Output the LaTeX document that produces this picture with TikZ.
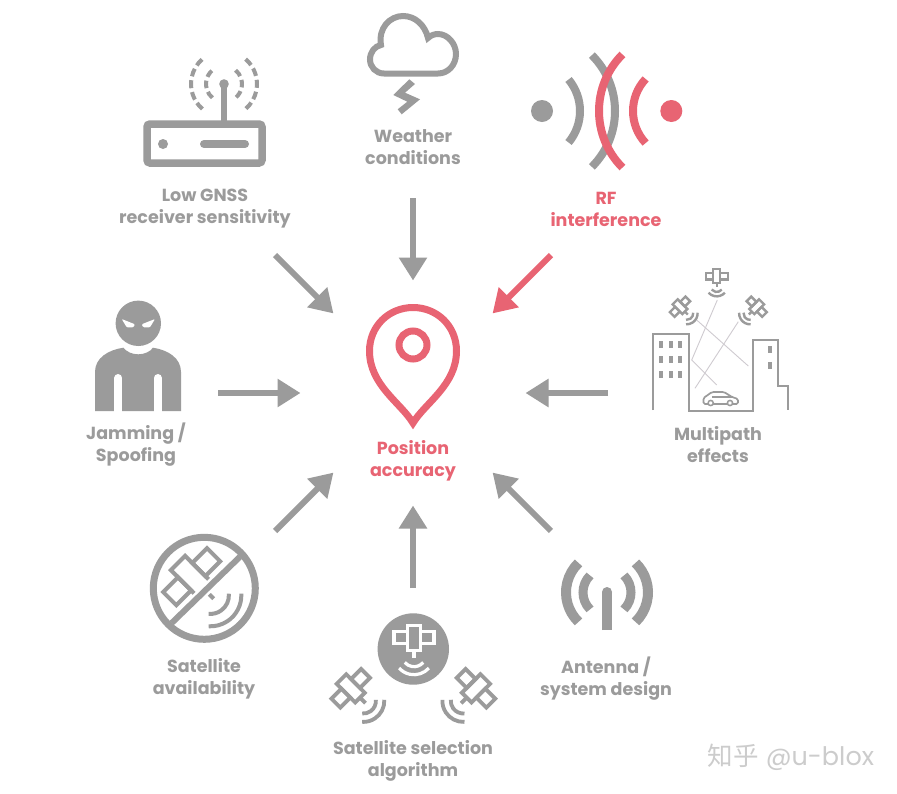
\documentclass[tikz,border=0pt]{standalone}
\usepackage{fontspec}
\setmainfont{Poppins}
\newfontfamily\cjkfont{Noto Sans CJK SC}
\usetikzlibrary{arrows.meta}
\definecolor{sgrey}{HTML}{9B9B9B}
\definecolor{sred}{HTML}{E86473}
\definecolor{raygrey}{HTML}{CFCBD0}
\tikzset{satellite/.pic={
	\draw[pic actions,line width=#1] (-6.5,-12.5) rectangle (6.5,12.5);
	\draw[pic actions,line width=#1] (-20,-6) rectangle (-6.5,6);
	\draw[pic actions,line width=#1] (6.5,-6) rectangle (20,6);
	\draw[pic actions,line width=#1] (0,12.5) -- (0,20);
	\draw[pic actions,line width=#1] (0,17) ++(40:12) arc[start angle=40,end angle=140,radius=12];
	\draw[pic actions,line width=#1] (0,17) ++(42:20) arc[start angle=42,end angle=138,radius=20];
}}

\begin{document}
\begin{tikzpicture}[x=1pt,y=-1pt]
	\tikzstyle{flow}=[draw=sgrey,line width=6pt,-{Triangle[length=23pt,width=27pt]}]
	\tikzstyle{ringnode}=[circle,inner sep=0pt,outer sep=0pt,draw=none]
	\tikzstyle{txt}=[align=center,font=\fontsize{17.5}{22}\selectfont\bfseries,text=sgrey]
	\tikzstyle{redtxt}=[txt,text=sred]
	\tikzstyle{icon}=[draw=sgrey,line width=7.5pt]
	\useasboundingbox (0,0) rectangle (897,793);
	\fill[white] (0,0) rectangle (897,793);

	% arrows
	\node (hub) [ringnode,minimum size=225pt] at (413,393) {};
	\node (ring) [ringnode,minimum size=390pt] at (413,393) {};
	\foreach \a in {0,90,135,180,225,270,315}
		\draw[flow] (ring.\a) -- (hub.\a);
	\draw[flow,draw=sred] (ring.45) -- (hub.45);

	% router
	\draw[icon,rounded corners=3pt] (147,124) rectangle (262,163);
	\fill[sgrey] (163,144) circle (5);
	\draw[sgrey,line width=8pt,line cap=round] (204,144) -- (245,144);
	\draw[sgrey,line width=6.5pt] (224,124) -- (224,85);
	\fill[sgrey] (224,84) circle (4.8);
	\draw[sgrey,line width=4pt,dash pattern=on 7.5pt off 4pt] (224,84) ++(-50:18) arc[start angle=-50,end angle=50,radius=18];
	\draw[sgrey,line width=4pt,dash pattern=on 7.5pt off 4pt] (224,84) ++(130:18) arc[start angle=130,end angle=230,radius=18];
	\draw[sgrey,line width=4pt,dash pattern=on 8pt off 4pt] (224,84) ++(-49:33) arc[start angle=-49,end angle=49,radius=33];
	\draw[sgrey,line width=4pt,dash pattern=on 8pt off 4pt] (224,84) ++(131:33) arc[start angle=131,end angle=229,radius=33];
	\node (router) [txt] at (205,209) {Low GNSS\\receiver sensitivity};

	% cloud
	\draw[draw=sgrey,line width=6pt] (384,73.5) .. controls (376,73.5) and (370,67) .. (370,59.5) .. controls (370,52) and (375,46) .. (381,45) .. controls (378,28) and (390,16) .. (403,16) .. controls (415,16) and (425,25) .. (428,38) .. controls (431,35) and (435,34) .. (438,34) .. controls (448,34) and (456,44) .. (456,54) .. controls (456,65) and (448,73.5) .. (438,73.5) -- cycle;
	\fill[sgrey] (409.3,79.3) -- (415,84) -- (405,92.7) -- (420,99.3) -- (401.7,114.3) -- (397.7,109.3) -- (407.3,101.7) -- (393.3,95) -- cycle;
	\node (weather) [txt] at (413,147) {Weather\\conditions};

	% rf
	\fill[sgrey] (542,111) circle (11);
	\draw[sgrey,line width=8pt] (531,111) ++(-40:49) arc[start angle=-40,end angle=40,radius=49];
	\draw[sgrey,line width=8pt] (536,111) ++(-45:79) arc[start angle=-45,end angle=45,radius=79];
	\draw[sred,line width=8pt] (679,111) ++(135:80) arc[start angle=135,end angle=225,radius=80];
	\draw[sred,line width=8pt] (680,111) ++(137:47) arc[start angle=137,end angle=223,radius=47];
	\fill[sred] (671.3,111) circle (11);
	\node (rf) [redtxt] at (606,209) {RF\\interference};

	% pin
	\draw[sred,line width=7pt] (413,423) .. controls (401,403) and (369.5,385) .. (369.5,351) .. controls (369.5,326) and (389,307.5) .. (413,307.5) .. controls (437,307.5) and (456.5,326) .. (456.5,351) .. controls (456.5,385) and (425,403) .. (413,423) -- cycle;
	\draw[sred,line width=7pt] (413,345) circle (14);
	\node (pos) [redtxt] at (413,461) {Position\\accuracy};

	% jammer
	\fill[sgrey] (95,411) -- (95,372) .. controls (95,358) and (108,350) .. (123.3,347.7) .. controls (127,352) and (132,354.3) .. (138.3,354.3) .. controls (144,354.3) and (150,352) .. (153,347.7) .. controls (168,350) and (181,358) .. (181,372) -- (181,411) -- cycle;
	\draw[white,line width=8pt,line cap=round] (118.3,378) -- (118.3,414);
	\draw[white,line width=8pt,line cap=round] (157.8,378) -- (157.8,414);
	\fill[sgrey] (138.3,323.3) circle (22.7);
	\fill[white,rounded corners=1pt] (121.7,319) -- (135,324.3) -- (133.3,327.3) -- (126.7,327.3) -- cycle;
	\fill[white,rounded corners=1pt] (155,319) -- (141.7,324.3) -- (143.3,327.3) -- (150,327.3) -- cycle;
	\node (jam) [txt] at (136,445) {Jamming /\\Spoofing};

	% city
	\draw[sgrey,line width=2.2pt] (653.3,410) -- (653.3,334) -- (689.3,334) -- (689.3,410.7) -- (752.7,410.7) -- (752.7,340) -- (778.3,340) -- (778.3,386) -- (788.3,386) -- (788.3,410);
	\foreach \x in {661.3,670.7,680.3}
		\foreach \y in {344,359,374}
			\fill[sgrey] (\x-2,\y-3.5) rectangle (\x+2,\y+3.5);
	\foreach \y in {349.3,365}
		\fill[sgrey] (768,\y-3.5) rectangle (772,\y+3.5);
	\draw[raygrey,line width=0.9pt] (717.3,300) -- (691.7,360) -- (716.7,385);
	\draw[raygrey,line width=0.9pt] (696.7,320) -- (748.3,366);
	\draw[raygrey,line width=0.9pt] (738.3,321.7) -- (695,388.3);
	\pic[draw=sgrey,scale=0.55] (sat1) at (716.7,276) {satellite=2.4pt};
	\pic[draw=sgrey,scale=0.55,rotate=45] (sat2) at (680,306.7) {satellite=2.4pt};
	\pic[draw=sgrey,scale=0.55,rotate=-45] (sat3) at (756.7,306.7) {satellite=2.4pt};
	\draw[sgrey,line width=1.7pt,rounded corners=1.5pt,fill=white] (703.5,404) -- (703.5,398) -- (712,392) -- (724,392) -- (732,397) -- (738,399) -- (738,404) -- cycle;
	\draw[sgrey,line width=1.2pt] (712,397) -- (732,397);
	\fill[white,draw=sgrey,line width=1.5pt] (710.7,403) circle (2.6);
	\fill[white,draw=sgrey,line width=1.5pt] (730,403) circle (2.6);
	\node (multi) [txt] at (718,445) {Multipath\\effects};

	% crossed out satellite
	\pic[draw=sgrey,scale=1.55,rotate=45] (sat4) at (191.7,576.7) {satellite=4pt};
	\draw[white,line width=11pt] (171.7,623) -- (240,556.7);
	\draw[sgrey,line width=6pt] (171.7,623) -- (240,556.7);
	\draw[sgrey,line width=7pt] (204.3,588.3) circle (51);
	\node (avail) [txt] at (204,679) {Satellite\\availability};

	% selection
	\fill[sgrey] (413.3,649) circle (35.7);
	\pic[draw=white] (sat5) at (414,637.7) {satellite=3.2pt};
	\pic[draw=sgrey,scale=1.05,rotate=45] (sat6) at (350.7,688.3) {satellite=3.8pt};
	\pic[draw=sgrey,scale=1.05,rotate=-45] (sat7) at (476,688.3) {satellite=3.8pt};
	\node (sel) [txt] at (413,761) {Satellite selection\\algorithm};

	% antenna
	\draw[sgrey,line width=10pt] (607,630) -- (607,592);
	\fill[sgrey] (607,592) circle (5);
	\draw[sgrey,line width=9pt] (607,592.4) ++(-45:24) arc[start angle=-45,end angle=45,radius=24];
	\draw[sgrey,line width=9pt] (607,592.4) ++(135:24) arc[start angle=135,end angle=225,radius=24];
	\draw[sgrey,line width=10pt] (607,592.4) ++(-46:41) arc[start angle=-46,end angle=46,radius=41];
	\draw[sgrey,line width=10pt] (607,592.4) ++(134:41) arc[start angle=134,end angle=226,radius=41];
	\node (ant) [txt] at (606,679) {Antenna /\\system design};

	\node (mark) [text=black!20,font=\fontsize{25.5}{27}\selectfont] at (791,757) {{\cjkfont 知乎} @u-blox};
\end{tikzpicture}
\end{document}
